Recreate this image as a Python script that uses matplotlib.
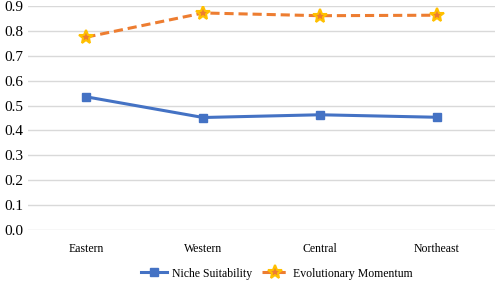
import matplotlib
matplotlib.use('Agg')
import matplotlib.pyplot as plt
import numpy as np

plt.rcParams['font.family'] = ['Liberation Serif', 'DejaVu Serif']

regions = ["Eastern", "Western", "Central", "Northeast"]
niche = [0.535, 0.452, 0.463, 0.453]
momentum = [0.775, 0.872, 0.861, 0.863]

fig = plt.figure(figsize=(4.98, 2.85), dpi=100)
ax = fig.add_axes([28 / 498, 55 / 285, 467 / 498, 224 / 285])

x = np.arange(len(regions)) + 0.5
ax.plot(x, niche, color='#4472C4', lw=2.2, marker='s', ms=6,
        label='Niche Suitability')
ax.plot(x, momentum, color='#ED7D31', lw=2.2, ls=(0, (3, 1.6)), marker='*',
        ms=10, mfc='#ED7D31', mec='#FFC000', mew=1.5,
        label='Evolutionary Momentum')

ax.set_xlim(0, 4)
ax.set_ylim(0, 0.9)
ax.set_yticks(np.arange(0, 0.91, 0.1))
ax.set_yticklabels([f"{v:.1f}" for v in np.arange(0, 0.91, 0.1)], fontsize=11)
ax.set_xticks(x)
ax.set_xticklabels(regions, fontsize=8.5)
ax.tick_params(length=0, pad=9, axis='x')
ax.tick_params(length=0, pad=3, axis='y')
ax.grid(axis='y', color='#D9D9D9', lw=1)
ax.set_axisbelow(True)
for s in ax.spines.values():
    s.set_visible(False)

fig.legend(loc='lower center', bbox_to_anchor=(0.556, -0.018), ncol=2,
           frameon=False, fontsize=8.5, handlelength=2.2, columnspacing=0.9,
           handletextpad=0.4)

fig.savefig('out.png', dpi=100)
